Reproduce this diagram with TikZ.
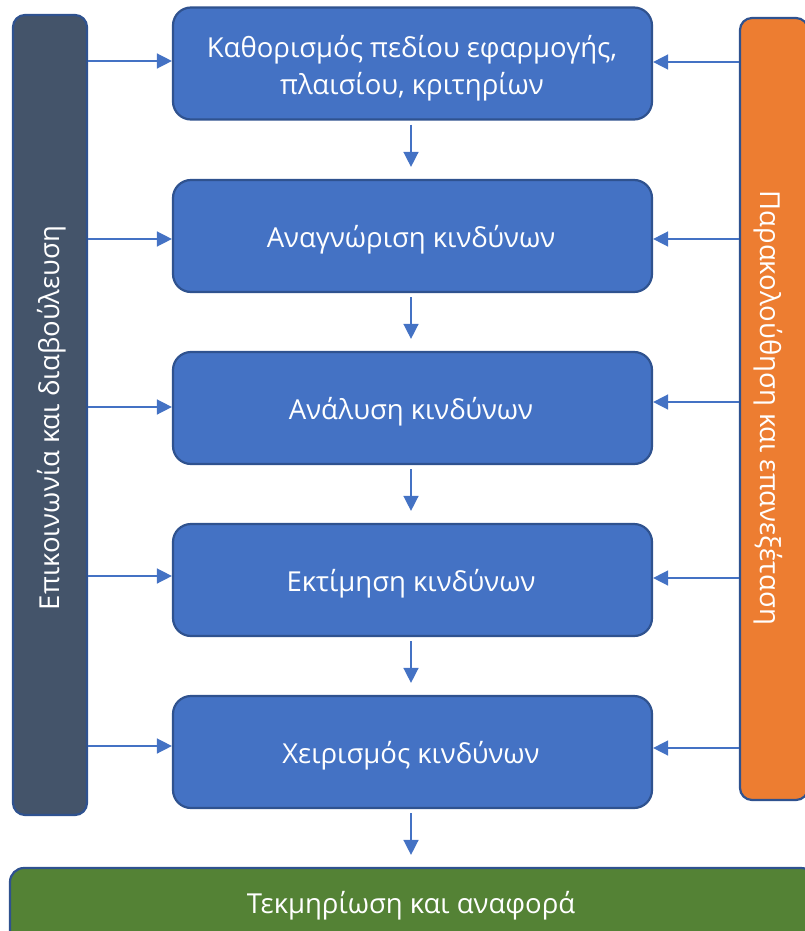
\documentclass[tikz,border=0pt]{standalone}
\usepackage{fontspec}
\setmainfont{Open Sans}
\usetikzlibrary{arrows.meta,calc}
\definecolor{boxblue}{HTML}{4472C4}
\definecolor{boxedge}{HTML}{2F528F}
\definecolor{darkbar}{HTML}{44546A}
\definecolor{orangebar}{HTML}{ED7D31}
\definecolor{greenbar}{HTML}{548235}
\tikzset{
  stepbox/.style={draw=boxedge, line width=2.2pt, fill=boxblue, rounded corners=18pt,
    minimum width=479pt, minimum height=112pt, inner sep=0pt},
  steptext/.style={text=white, align=center, font=\fontsize{27.5}{37}\selectfont, inner sep=0pt},
  sidebar/.style={draw=boxedge, line width=2.2pt, rounded corners=12pt, inner sep=0pt},
  bartext/.style={text=white, inner sep=0pt, font=\fontsize{27.5}{30}\selectfont},
  conn/.style={draw=boxblue, line width=1.5pt, -{Triangle[length=15pt,width=15pt]}}
}
\begin{document}
\begin{tikzpicture}[x=1pt,y=-1pt]
\useasboundingbox (0,0) rectangle (805,931);
\begin{scope}
\clip (0,0) rectangle (805,931);
\node[stepbox] (b1) at (412.5,63.5) {};
\node[steptext] (t1) at (412,68) {Καθορισμός πεδίου εφαρμογής,\\πλαισίου, κριτηρίων};
\node[stepbox] (b2) at (412.5,236) {};
\node[steptext] (t2) at (411,240) {Αναγνώριση κινδύνων};
\node[stepbox] (b3) at (412.5,408) {};
\node[steptext] (t3) at (411,412) {Ανάλυση κινδύνων};
\node[stepbox] (b4) at (412.5,580) {};
\node[steptext] (t4) at (411,584) {Εκτίμηση κινδύνων};
\node[stepbox] (b5) at (412.5,752) {};
\node[steptext] (t5) at (411,756) {Χειρισμός κινδύνων};
\node[sidebar, fill=darkbar, minimum width=74pt, minimum height=800pt] (lb) at (50,415) {};
\node[bartext, rotate=90] (lt) at (52,418) {Επικοινωνία και διαβούλευση};
\node[sidebar, fill=orangebar, minimum width=68pt, minimum height=782pt] (rb) at (774,409) {};
\node[bartext, rotate=-90] (rt) at (768,408) {Παρακολούθηση και επανεξέταση};
\node[draw=boxedge, line width=2.2pt, fill=greenbar, rounded corners=14pt, minimum width=805pt, minimum height=78pt, inner sep=0pt] (gb) at (412.5,907) {};
\node[bartext] (gt) at (411,906) {Τεκμηρίωση και αναφορά};
\draw[conn] ($(b1.south)+(-1.5,4)$) -- ($(b2.north)+(-1.5,-12)$);
\draw[conn] ($(b2.south)+(-1.5,4)$) -- ($(b3.north)+(-1.5,-12)$);
\draw[conn] ($(b3.south)+(-1.5,4)$) -- ($(b4.north)+(-1.5,-12)$);
\draw[conn] ($(b4.south)+(-1.5,4)$) -- ($(b5.north)+(-1.5,-12)$);
\draw[conn] ($(b5.south)+(-1.5,4)$) -- ($(gb.north)+(-1.5,-12)$);
\foreach \b/\yl/\yr in {b1/61/62, b2/239/239, b3/407/402, b4/576/578, b5/746/748}{
  \draw[conn] (lb.east |- 0,\yl) -- (\b.west |- 0,\yl);
  \draw[conn] (rb.west |- 0,\yr) -- (\b.east |- 0,\yr);
}
\end{scope}
\end{tikzpicture}
\end{document}
